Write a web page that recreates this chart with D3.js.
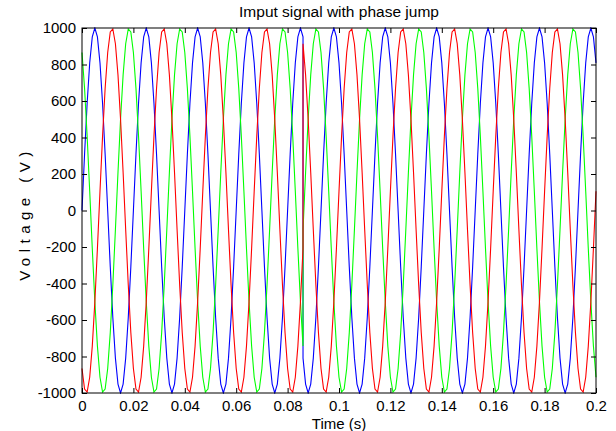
<!DOCTYPE html>
<html>
<head>
<meta charset="utf-8">
<script src="https://cdn.jsdelivr.net/npm/d3@7/dist/d3.min.js"></script>
<style>
body { margin: 0; background: #fff; }
svg text { font-family: "Liberation Sans", Arial, Helvetica, sans-serif; fill: #000; }
</style>
</head>
<body>
<div id="chart"></div>
<script>
// three phase input, 1 ms samples, phase jump at t = 0.086 s
// (the jump sample is listed twice: value before, value after)
var sampleStep = 0.001;
var jumpSample = 86;

var phaseBlue = [
    0, 309, 588, 809, 951, 1000, 951, 809, 588, 309, 0, -309, -588, -809, -951, -1000, -951, -809, -588, -309,
    0, 309, 588, 809, 951, 1000, 951, 809, 588, 309, 0, -309, -588, -809, -951, -1000, -951, -809, -588, -309,
    0, 309, 588, 809, 951, 1000, 951, 809, 588, 309, 0, -309, -588, -809, -951, -1000, -951, -809, -588, -309,
    0, 309, 588, 809, 951, 1000, 951, 809, 588, 309, 0, -309, -588, -809, -951, -1000, -951, -809, -588, -309,
    0, 309, 588, 809, 951, 1000, 951,
    -809, -951, -1000, -951, -809, -588, -309,
    0, 309, 588, 809, 951, 1000, 951, 809, 588, 309, 0, -309, -588, -809, -951, -1000, -951, -809, -588, -309,
    0, 309, 588, 809, 951, 1000, 951, 809, 588, 309, 0, -309, -588, -809, -951, -1000, -951, -809, -588, -309,
    0, 309, 588, 809, 951, 1000, 951, 809, 588, 309, 0, -309, -588, -809, -951, -1000, -951, -809, -588, -309,
    0, 309, 588, 809, 951, 1000, 951, 809, 588, 309, 0, -309, -588, -809, -951, -1000, -951, -809, -588, -309,
    0, 309, 588, 809, 951, 1000, 951, 809, 588, 309, 0, -309, -588, -809, -951, -1000, -951, -809, -588, -309,
    0, 309, 588, 809, 951, 1000, 951, 809
];

var phaseRed = [
    -866, -978, -995, -914, -743, -500, -208, 105, 407, 669, 866, 978, 995, 914, 743, 500, 208, -105, -407, -669,
    -866, -978, -995, -914, -743, -500, -208, 105, 407, 669, 866, 978, 995, 914, 743, 500, 208, -105, -407, -669,
    -866, -978, -995, -914, -743, -500, -208, 105, 407, 669, 866, 978, 995, 914, 743, 500, 208, -105, -407, -669,
    -866, -978, -995, -914, -743, -500, -208, 105, 407, 669, 866, 978, 995, 914, 743, 500, 208, -105, -407, -669,
    -866, -978, -995, -914, -743, -500, -208,
    914, 743, 500, 208, -105, -407, -669,
    -866, -978, -995, -914, -743, -500, -208, 105, 407, 669, 866, 978, 995, 914, 743, 500, 208, -105, -407, -669,
    -866, -978, -995, -914, -743, -500, -208, 105, 407, 669, 866, 978, 995, 914, 743, 500, 208, -105, -407, -669,
    -866, -978, -995, -914, -743, -500, -208, 105, 407, 669, 866, 978, 995, 914, 743, 500, 208, -105, -407, -669,
    -866, -978, -995, -914, -743, -500, -208, 105, 407, 669, 866, 978, 995, 914, 743, 500, 208, -105, -407, -669,
    -866, -978, -995, -914, -743, -500, -208, 105, 407, 669, 866, 978, 995, 914, 743, 500, 208, -105, -407, -669,
    -866, -978, -995, -914, -743, -500, -208, 105
];

var phaseGreen = [
    866, 669, 407, 105, -208, -500, -743, -914, -995, -978, -866, -669, -407, -105, 208, 500, 743, 914, 995, 978,
    866, 669, 407, 105, -208, -500, -743, -914, -995, -978, -866, -669, -407, -105, 208, 500, 743, 914, 995, 978,
    866, 669, 407, 105, -208, -500, -743, -914, -995, -978, -866, -669, -407, -105, 208, 500, 743, 914, 995, 978,
    866, 669, 407, 105, -208, -500, -743, -914, -995, -978, -866, -669, -407, -105, 208, 500, 743, 914, 995, 978,
    866, 669, 407, 105, -208, -500, -743,
    -105, 208, 500, 743, 914, 995, 978,
    866, 669, 407, 105, -208, -500, -743, -914, -995, -978, -866, -669, -407, -105, 208, 500, 743, 914, 995, 978,
    866, 669, 407, 105, -208, -500, -743, -914, -995, -978, -866, -669, -407, -105, 208, 500, 743, 914, 995, 978,
    866, 669, 407, 105, -208, -500, -743, -914, -995, -978, -866, -669, -407, -105, 208, 500, 743, 914, 995, 978,
    866, 669, 407, 105, -208, -500, -743, -914, -995, -978, -866, -669, -407, -105, 208, 500, 743, 914, 995, 978,
    866, 669, 407, 105, -208, -500, -743, -914, -995, -978, -866, -669, -407, -105, 208, 500, 743, 914, 995, 978,
    866, 669, 407, 105, -208, -500, -743, -914
];

var seriesColors = ["#0000ff", "#00ff00", "#ff0000"];
var xTicks = [0, 0.02, 0.04, 0.06, 0.08, 0.1, 0.12, 0.14, 0.16, 0.18, 0.2];
var yTicks = [-1000, -800, -600, -400, -200, 0, 200, 400, 600, 800, 1000];

var time = d3.range(0, jumpSample + 1)
    .concat(d3.range(jumpSample, 201))
    .map(function(k) { return k * sampleStep; });

var totalW = 616, totalH = 431,
    margin = {top: 28, right: 20, bottom: 38, left: 82},
    width = totalW - margin.left - margin.right,
    height = totalH - margin.top - margin.bottom,
    fontSize = 15;

var svg = d3.select("#chart").append("svg")
    .attr("width", totalW)
    .attr("height", totalH);

var g = svg.append("g")
    .attr("transform", "translate(" + margin.left + "," + margin.top + ")");

var x = d3.scaleLinear().domain([0, 0.2]).range([0, width]),
    y = d3.scaleLinear().domain([-1000, 1000]).range([height, 0]);

g.append("clipPath").attr("id", "plotclip")
    .append("rect").attr("x", -1).attr("y", -1)
    .attr("width", width + 2).attr("height", height + 2);

var line = d3.line()
    .x(function(d) { return x(d[0]); })
    .y(function(d) { return y(d[1]); });

var series = [phaseBlue, phaseGreen, phaseRed];

g.append("g").attr("clip-path", "url(#plotclip)")
    .selectAll("path")
    .data(series)
    .enter().append("path")
    .attr("fill", "none")
    .attr("stroke", function(d, i) { return seriesColors[i]; })
    .attr("stroke-width", 1.1)
    .attr("d", function(d) {
        return line(d.map(function(v, i) { return [time[i], v]; }));
    });

// axes, ticks point inwards like matlab
var fmt = function(d) { return String(d); };

var axB = g.append("g").attr("transform", "translate(0," + height + ")")
    .call(d3.axisBottom(x).tickValues(xTicks).tickFormat(fmt).tickSize(-5).tickSizeOuter(0).tickPadding(5));
var axL = g.append("g")
    .call(d3.axisLeft(y).tickValues(yTicks).tickFormat(fmt).tickSize(-5).tickSizeOuter(0).tickPadding(6));
var axT = g.append("g")
    .call(d3.axisTop(x).tickValues(xTicks).tickFormat("").tickSize(-5).tickSizeOuter(0));
var axR = g.append("g").attr("transform", "translate(" + width + ",0)")
    .call(d3.axisRight(y).tickValues(yTicks).tickFormat("").tickSize(-5).tickSizeOuter(0));

[axB, axL, axT, axR].forEach(function(a) {
    a.select(".domain").remove();
    a.selectAll("line").attr("stroke", "#000");
    a.selectAll("text").attr("font-size", fontSize).attr("fill", "#000");
});
axB.selectAll("text").attr("dy", "0.85em");

g.append("rect")
    .attr("width", width).attr("height", height)
    .attr("fill", "none").attr("stroke", "#000").attr("stroke-width", 1);

svg.append("text")
    .attr("x", margin.left + width / 2).attr("y", 17)
    .attr("text-anchor", "middle").attr("font-size", 15.5)
    .text("Imput signal with phase jump");

svg.append("text")
    .attr("x", margin.left + width / 2).attr("y", 429)
    .attr("text-anchor", "middle").attr("font-size", fontSize)
    .text("Time (s)");

svg.append("text")
    .attr("transform", "translate(30," + (margin.top + height / 2 + 3) + ") rotate(-90)")
    .attr("text-anchor", "middle").attr("font-size", fontSize)
    .attr("letter-spacing", 5.5)
    .text("Voltage (V)");
</script>
</body>
</html>
